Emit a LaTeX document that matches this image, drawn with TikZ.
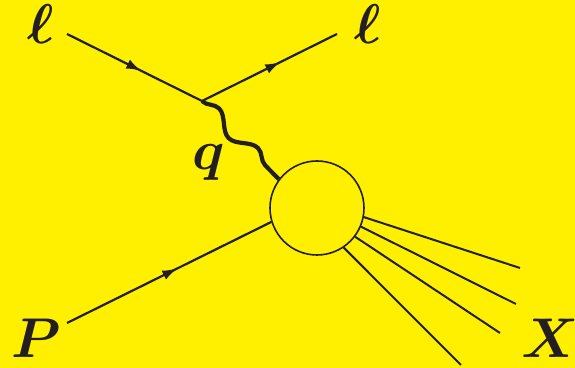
\RequirePackage{fix-cm}
\documentclass[tikz,border=0pt]{standalone}
\usepackage{amsmath,bm}
\usetikzlibrary{arrows.meta,decorations.markings,decorations.pathmorphing}
\definecolor{bgyellow}{RGB}{255,240,0}
\definecolor{ink}{RGB}{35,31,32}

\begin{document}
\begin{tikzpicture}[x=0.5pt,y=-0.5pt,
  fermion/.style={draw=ink, line width=1.1pt, postaction={decorate},
    decoration={markings, mark=at position #1 with {\arrow{Latex[length=7.5pt,width=5pt]}}}},
  hadron/.style={draw=ink, line width=1pt},
  photon/.style={draw=ink, line width=2.1pt, decorate,
    decoration={snake, segment length=27.75pt, amplitude=3.5pt}},
  blobstyle/.style={draw=ink, circle, line width=0.8pt, minimum size=47pt, inner sep=0pt},
  lbl/.style={text=ink, inner sep=0pt, anchor=base, font=\fontsize{28}{30}\selectfont}
]
\path[use as bounding box, fill=bgyellow] (0,0) rectangle (575,368);

% vertices and free ends
\coordinate (vtx) at (202,101);
\coordinate (lin) at (67,34);
\coordinate (lout) at (337,34);
\coordinate (pin) at (67,323);
\coordinate (x1) at (520,268);
\coordinate (x2) at (516,304);
\coordinate (x3) at (500,333);
\coordinate (x4) at (461,365);

\node[blobstyle] (blob) at (317,208) {};

% labels
\node[lbl] (lab-lin) at (41,44) {$\bm{\ell}$};
\node[lbl] (lab-lout) at (368,44) {$\bm{\ell}$};
\node[lbl] (lab-q) at (209,170) {$\bm{q}$};
\node[lbl] (lab-p) at (36,358) {$\bm{P}$};
\node[lbl] (lab-x) at (550,358) {$\bm{X}$};

% lines
\draw[fermion=0.55] (lin) -- (vtx);
\draw[fermion=0.58] (vtx) -- (lout);
\draw[fermion=0.54] (pin) -- (blob.197);
\draw[photon] (vtx) -- (blob.143);
\draw[hadron] (blob.349) -- (x1);
\draw[hadron] (blob.337) -- (x2);
\draw[hadron] (blob.323) -- (x3);
\draw[hadron] (blob.304) -- (x4);
\end{tikzpicture}
\end{document}
